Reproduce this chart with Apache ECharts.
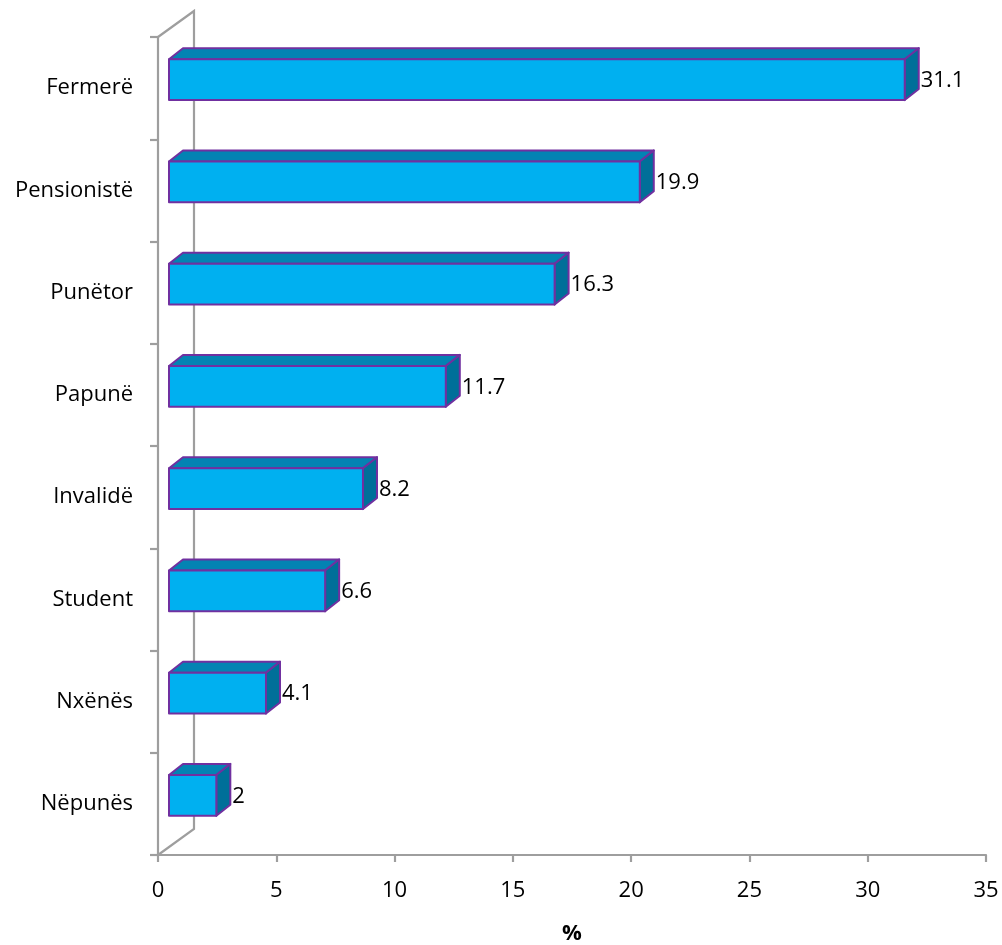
<!DOCTYPE html>
<html>
<head>
<meta charset="utf-8">
<script src="https://cdn.jsdelivr.net/npm/echarts@6/dist/echarts.min.js"></script>
<style>
  html, body { margin: 0; padding: 0; background: #ffffff; }
  #chart { width: 1002px; height: 945px; }
</style>
</head>
<body>
<div id="chart"></div>
<script>
// Occupational categories and their shares (%)
const categories = ['Fermerë', 'Pensionistë', 'Punëtor', 'Papunë', 'Invalidë', 'Student', 'Nxënës', 'Nëpunës'];
const values = [31.1, 19.9, 16.3, 11.7, 8.2, 6.6, 4.1, 2];
const xTicks = [0, 5, 10, 15, 20, 25, 30, 35];

const FONT = '"Open Sans", Lato, sans-serif';
const FONT_SIZE = 22;
const AXIS_GRAY = '#9e9e9e';

// 3D look: wall depth and bar depth offsets (pixels)
const WALL_DX = 36, WALL_DY = -26;
const BAR_SHIFT_X = 11, BAR_SHIFT_Y = -8.5;
const BAR_DX = 14, BAR_DY = -11;

const chart = echarts.init(document.getElementById('chart'), null, { renderer: 'canvas' });

function renderWall(params, api) {
  const cs = params.coordSys;
  const x0 = cs.x, yTop = cs.y, yBot = cs.y + cs.height;
  const ls = { stroke: AXIS_GRAY, lineWidth: 2.2, fill: null };
  return {
    type: 'group',
    children: [
      { type: 'polyline', shape: { points: [[x0, yTop], [x0 + WALL_DX, yTop + WALL_DY], [x0 + WALL_DX, yBot + WALL_DY], [x0, yBot]] }, style: ls }
    ]
  };
}

function renderBar(params, api) {
  const idx = api.value(0);
  const v = api.value(1);
  const p0 = api.coord([0, idx]);
  const p1 = api.coord([v, idx]);
  const band = api.size([0, 1])[1];
  const h = band * 0.40;
  const xl = p0[0] + BAR_SHIFT_X;
  const xr = p1[0] + BAR_SHIFT_X;
  const cy = p0[1] + BAR_SHIFT_Y;
  const yt = cy - h / 2, yb = cy + h / 2;
  const stroke = { stroke: '#7030a0', lineWidth: 2, lineJoin: 'round' };
  return {
    type: 'group',
    children: [
      { type: 'polygon', shape: { points: [[xl, yt], [xr, yt], [xr + BAR_DX, yt + BAR_DY], [xl + BAR_DX, yt + BAR_DY]] },
        style: Object.assign({ fill: '#0383b3' }, stroke) },
      { type: 'polygon', shape: { points: [[xr, yt], [xr + BAR_DX, yt + BAR_DY], [xr + BAR_DX, yb + BAR_DY], [xr, yb]] },
        style: Object.assign({ fill: '#006f99' }, stroke) },
      { type: 'rect', shape: { x: xl, y: yt, width: xr - xl, height: h },
        style: Object.assign({ fill: '#00b0f0' }, stroke) },
      { type: 'text', x: xr + BAR_DX + 2, y: cy + 1,
        style: { text: String(v), fill: '#000000', font: FONT_SIZE + 'px ' + FONT, textAlign: 'left', textVerticalAlign: 'middle' } }
    ]
  };
}

const barData = values.map((v, i) => [i, v]);

chart.setOption({
  animation: false,
  backgroundColor: '#ffffff',
  grid: { left: 158, right: 16, top: 37, bottom: 90, containLabel: false, outerBoundsMode: 'none' },
  xAxis: {
    type: 'value',
    min: xTicks[0],
    max: xTicks[xTicks.length - 1],
    interval: 5,
    name: '%',
    nameLocation: 'middle',
    nameGap: 68,
    nameTextStyle: { fontFamily: FONT, fontSize: FONT_SIZE, fontWeight: 'bold', color: '#000' },
    axisLine: { show: true, lineStyle: { color: AXIS_GRAY, width: 2.2 } },
    axisTick: { show: true, length: 7, lineStyle: { color: AXIS_GRAY, width: 2.2 } },
    axisLabel: { fontFamily: FONT, fontSize: FONT_SIZE, color: '#000', margin: 25 },
    splitLine: { show: false }
  },
  yAxis: {
    type: 'category',
    inverse: true,
    data: categories,
    axisLine: { show: true, lineStyle: { color: AXIS_GRAY, width: 2.2 } },
    axisTick: { show: true, length: 8, lineStyle: { color: AXIS_GRAY, width: 2.2 } },
    axisLabel: { fontFamily: FONT, fontSize: FONT_SIZE, color: '#000', margin: 25 },
    splitLine: { show: false }
  },
  series: [
    { type: 'custom', renderItem: renderWall, data: [[0, 0]], z: 1, silent: true },
    { type: 'custom', renderItem: renderBar, data: barData, encode: { x: 1, y: 0 }, z: 3 }
  ]
});
</script>
</body>
</html>
